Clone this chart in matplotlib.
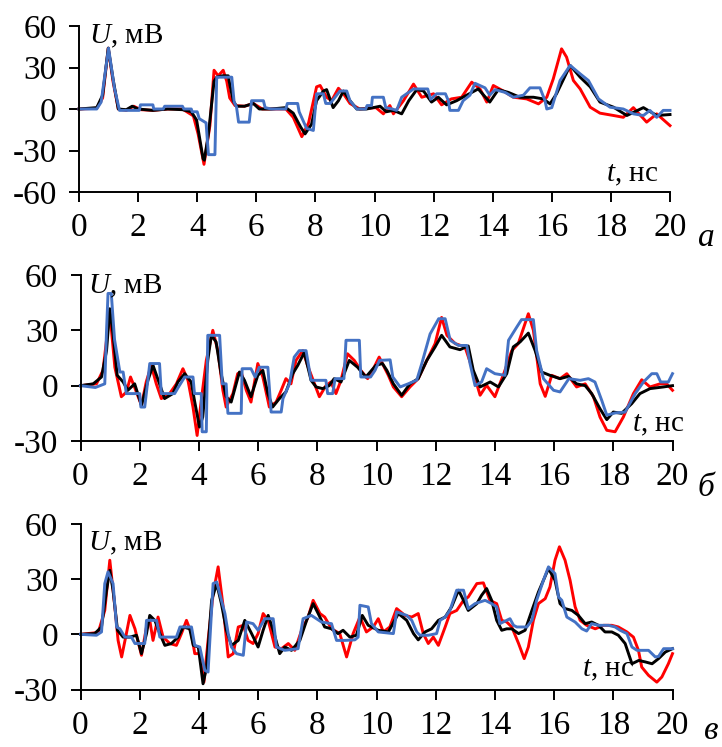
import numpy as np
import matplotlib
matplotlib.use("Agg")
import matplotlib.pyplot as plt

plt.rcParams['font.family'] = ['Liberation Serif', 'DejaVu Serif']
plt.rcParams['mathtext.fontset'] = 'custom'
plt.rcParams['mathtext.rm'] = 'Liberation Serif'
plt.rcParams['mathtext.it'] = 'Liberation Serif:italic'
plt.rcParams['axes.unicode_minus'] = False

# ---------------- data (t, ns ; U, mV) ----------------
a_red = [(0,0),(0.6,0.5),(0.8,8),(0.99,44),(1.15,20),(1.33,0),(1.6,-1),(1.85,2),(2.1,-0.5),(2.5,-1),(3.0,0),(3.5,0),
         (3.87,-5),(4.03,-18),(4.23,-40),(4.43,-12),(4.57,28),(4.71,24),(4.88,28),(5.0,20),(5.1,8),(5.28,2.5),(5.6,2),
         (5.9,4),(6.2,0),(6.6,0),(7.0,0),(7.25,-6),(7.54,-20),(7.77,-10),(8.04,16),(8.16,17),(8.38,8.5),(8.55,6),(8.78,15),
         (8.95,11),(9.17,4),(9.5,0),(10.05,1),(10.3,-3.5),(10.52,2.5),(10.64,-3.5),(10.98,6),(11.32,18),(11.6,8.5),(12.0,11),
         (12.27,3),(12.6,7.3),(12.95,8.5),(13.29,19.4),(13.57,14.5),(13.8,5),(14.02,17),(14.36,13),(14.7,8.5),(15.15,7.3),
         (15.55,3.7),(15.83,8.5),(16.05,21.8),(16.33,43.5),(16.5,37.5),(16.73,20.6),(16.96,14.5),(17.3,1.3),(17.63,-3),
         (18.09,-4.7),(18.42,-6),(18.76,1),(19.21,-9.5),(19.55,-3.5),(20.0,-12)]
a_black = [(0,0),(0.6,1),(0.8,10),(0.99,44),(1.15,22),(1.33,0),(1.6,-0.5),(1.8,2),(2.0,0),(2.5,-1),(3.0,0),(3.5,-0.5),
           (3.8,-2),(3.98,-8),(4.2,-36),(4.24,-37),(4.38,-18),(4.57,20),(4.66,23),(4.85,24),(5.05,24),(5.1,18),(5.22,6),
           (5.33,2),(5.6,2),(5.9,4),(6.1,0),(6.5,0),(7.0,1),(7.25,-3),(7.5,-13),(7.65,-18),(7.87,-11),(8.04,6),(8.27,13),
           (8.38,14),(8.6,1),(8.78,6),(8.95,13),(9.17,6),(9.4,0),(9.73,0),(10.19,2),(10.4,-2),(10.64,-1),(10.92,-3.5),
           (11.16,6),(11.43,14),(11.66,13),(11.93,5),(12.16,8.5),(12.44,3),(12.78,6),(13.12,10),(13.51,14.5),(13.9,5),
           (14.19,14),(14.53,12),(14.92,8.5),(15.38,8.5),(15.71,7.3),(15.94,3.7),(16.16,11),(16.62,31.5),(16.96,23),
           (17.3,16),(17.63,5),(18.09,1.3),(18.54,-4.7),(19.1,1),(19.55,-4.7),(20.0,-4)]
a_blue = [(0,0),(0.6,0),(0.75,5),(1.0,44),(1.2,15),(1.37,-1),(2.04,-1),(2.08,3),(2.5,3),(2.53,0),(2.85,0),(2.9,2),
          (3.5,2),(3.55,0),(3.8,0),(3.83,-2),(4.0,-2),(4.07,-7),(4.3,-10),(4.38,-33),(4.6,-33),(4.66,23),(5.17,23),
          (5.25,5),(5.33,1.5),(5.4,-9.5),(5.76,-9.5),(5.84,6),(6.24,6),(6.3,1),(6.5,0),(7.0,0),(7.05,4),(7.4,4),(7.45,-2),
          (7.7,-14),(7.93,-15.5),(8.04,11),(8.27,11),(8.35,4),(8.5,4),(8.83,13),(9.06,13),(9.17,6),(9.4,0),(9.7,0),
          (9.75,2.5),(9.9,2.5),(9.93,8.5),(10.3,8.5),(10.38,1),(10.6,0),(10.75,-1),(10.92,8.5),(11.32,14.5),(11.8,14.5),
          (11.9,7),(12.1,11),(12.4,11),(12.5,6),(12.55,-1),(12.84,-1),(13.0,6),(13.23,10),(13.4,18.6),(13.74,15.3),
          (13.9,10),(14.08,14),(14.42,12),(14.7,8.5),(15.04,10),(15.26,15.3),(15.6,15.3),(15.77,6),(15.83,0),(16.0,1),
          (16.28,20.6),(16.62,31.5),(16.96,25.4),(17.24,20.6),(17.58,7.3),(17.97,1.3),(18.42,0),(18.76,-3.5),(19.1,-4.7),
          (19.32,-1),(19.55,-6),(19.77,-1),(20.0,-1)]

b_red = [(0,0),(0.54,1),(0.76,8.3),(0.99,40),(1.16,10),(1.38,-6),(1.55,-3.5),(1.69,4.7),(1.83,-1),(2.06,-10.7),(2.22,2),
         (2.39,11),(2.56,1),(2.73,-7),(3.01,-4.3),(3.24,1),(3.46,9.2),(3.63,2.9),(3.8,-11.6),(3.94,-27),(4.08,-8),
         (4.25,13.7),(4.47,30),(4.64,19),(4.81,-2.5),(4.92,-11.6),(5.15,-4.3),(5.31,6.5),(5.43,7.4),(5.6,-2.5),(5.76,-8.9),
         (5.99,12),(6.16,4.7),(6.38,-11.6),(6.61,-8.9),(6.78,-2.5),(6.94,3.8),(7.11,1),(7.28,13.7),(7.51,19),(7.67,11),
         (7.84,3.8),(8.07,-6),(8.29,0),(8.46,2),(8.63,-4.3),(8.8,2.9),(9.02,17.3),(9.25,13.7),(9.47,8.3),(9.7,3.8),
         (9.92,10),(10.09,15.5),(10.4,5.6),(10.57,-0.7),(10.85,-6),(11.13,-0.7),(11.41,3.8),(11.7,13.7),(11.98,22.8),
         (12.2,37),(12.38,27.3),(12.66,22.8),(12.99,21),(13.22,10),(13.5,-5.2),(13.72,0.2),(14.0,-6),(14.3,6.5),
         (14.57,19),(14.79,22.8),(15.13,39),(15.3,30),(15.53,1),(15.7,-5.8),(15.92,5.6),(16.2,3.8),(16.43,6.5),
         (16.76,-0.7),(17.05,1),(17.33,-6),(17.55,-17),(17.78,-24.2),(18.06,-25),(18.34,-17),(18.68,-4.3),(18.96,3.2),
         (19.24,-0.7),(19.58,1),(19.8,1),(20.0,-2.5)]
b_black = [(0,0),(0.43,1),(0.71,4.7),(0.88,19),(0.99,41.7),(1.1,28),(1.24,5.6),(1.44,2),(1.6,-2.5),(1.83,1),(2.06,-10.7),
           (2.28,3),(2.45,11),(2.67,1),(2.84,-7),(3.12,-4.3),(3.29,2),(3.52,6.5),(3.74,2),(3.85,-8),(4.02,-22.4),
           (4.13,-17),(4.3,13.7),(4.42,27.3),(4.58,23.7),(4.75,6.5),(4.92,-6),(5.09,-8.9),(5.37,7.4),(5.54,2.9),(5.76,-6),
           (5.99,5.6),(6.16,8.3),(6.33,-4.3),(6.49,-11.6),(6.72,-7),(6.94,-3.4),(7.17,6.5),(7.34,11),(7.56,18),(7.79,2.9),
           (7.96,-0.7),(8.18,-1.6),(8.4,0),(8.57,3.8),(8.8,2),(9.08,13.7),(9.36,10),(9.64,4.7),(9.98,11),(10.2,12),
           (10.35,8.3),(10.57,1),(10.85,-5.2),(11.13,1),(11.41,3.8),(11.7,13.7),(11.98,21),(12.2,27.3),(12.48,21),
           (12.82,19.5),(13.1,21.5),(13.27,8.3),(13.5,-0.7),(13.84,2),(14.12,-0.7),(14.4,6.5),(14.62,21),(14.85,23.7),
           (15.13,28.5),(15.36,19),(15.58,7.4),(15.86,5.6),(16.2,3.8),(16.48,5),(16.76,1),(17.05,0),(17.27,-4.3),
           (17.55,-12.5),(17.78,-18.4),(18.0,-14.3),(18.28,-15),(18.62,-9.8),(18.9,-4.3),(19.24,-1.6),(19.69,-0.7),(20.0,0)]
b_blue = [(0,0),(0.5,-1),(0.82,1),(0.88,30),(0.93,50),(1.04,50),(1.15,25),(1.33,7.4),(1.44,7.4),(1.55,-4.3),(2.0,-4.3),
          (2.04,-11.6),(2.17,-11.6),(2.34,12),(2.67,12),(2.73,-4.3),(3.18,-4.3),(3.3,-1),(3.52,4.7),(3.8,4.7),(3.85,-4.3),
          (4.08,-4.3),(4.11,-25),(4.25,-25),(4.3,27.3),(4.7,27.3),(4.79,1),(4.92,1),(4.98,-15),(5.43,-15),(5.46,9.2),
          (5.76,9.2),(5.9,4.7),(6.04,10),(6.33,10),(6.44,-14.3),(6.78,-14.3),(6.84,-7),(7.06,1),(7.22,15.5),(7.39,19),
          (7.62,19),(7.79,2.9),(8.29,2.9),(8.35,-4.3),(8.52,-4.3),(8.6,3.8),(8.9,3.8),(8.97,24.6),(9.42,24.6),(9.47,4.7),
          (9.8,4.7),(9.95,8.3),(10.1,13.7),(10.46,14),(10.55,4.7),(10.8,-0.7),(11.07,1),(11.36,3),(11.53,12),(11.81,28),
          (12.1,36.3),(12.32,36.3),(12.49,24.6),(12.77,21.8),(13.05,21.8),(13.16,12),(13.33,0),(13.55,2),(13.72,9.2),
          (14.0,6.5),(14.34,5.6),(14.46,24.6),(14.74,31.8),(14.9,35.8),(15.3,35.8),(15.41,19),(15.64,3.8),(15.98,-2.5),
          (16.2,-3.4),(16.5,3.8),(16.88,2.9),(17.16,3.8),(17.38,2),(17.61,-8),(17.78,-16),(18.06,-14.8),(18.4,-14.3),
          (18.74,-4.3),(19.02,2),(19.3,6.5),(19.47,6.5),(19.6,2),(19.86,2),(20.0,6.5)]

c_red = [(0,0),(0.6,1),(0.82,13),(0.99,40.3),(1.16,15),(1.27,-3.3),(1.39,-12.3),(1.55,0.4),(1.67,10.3),(1.84,3),
         (2.06,-11.4),(2.23,4),(2.34,7.6),(2.45,-3.3),(2.62,9.4),(2.79,-1.5),(3.02,-5),(3.24,-6),(3.41,0.4),(3.58,7.6),
         (3.75,0.4),(3.86,-10.5),(4.03,-10.5),(4.17,-26),(4.31,-3.3),(4.48,22),(4.65,36.7),(4.82,15),(4.99,-12.3),
         (5.16,-10.5),(5.33,4),(5.5,4.9),(5.66,-3.3),(5.83,-5),(6.0,0.4),(6.17,11.3),(6.34,7.6),(6.57,-6.9),(6.79,-7.8),
         (7.02,-5),(7.24,-8.7),(7.47,2.2),(7.69,9.4),(7.86,18.5),(8.09,11.3),(8.25,9.4),(8.48,3),(8.76,0.4),(8.99,-12.3),
         (9.21,0.4),(9.44,9.4),(9.66,1.3),(9.89,4),(10.06,8.5),(10.23,1.3),(10.45,4),(10.68,14),(10.96,10.3),(11.19,9.4),
         (11.41,11.3),(11.58,0.4),(11.75,-5),(11.92,-1.5),(12.09,-6),(12.32,4),(12.48,11.3),(12.71,13),(12.94,18.5),
         (13.1,20.3),(13.39,27.6),(13.61,28),(13.83,18.5),(14.06,16.7),(14.23,7.6),(14.4,6.7),(14.57,4),(14.8,-5),
         (14.99,-13.2),(15.13,-6.9),(15.3,7.6),(15.47,16.7),(15.7,19.4),(15.86,25.8),(16.03,40.3),(16.18,47.6),
         (16.37,40.3),(16.54,29.4),(16.71,15),(16.88,7.6),(17.1,4.9),(17.39,3),(17.67,4.9),(17.95,4.9),(18.17,4),
         (18.46,1.3),(18.68,-1.5),(18.85,-8.7),(18.96,-17.8),(19.19,-22.3),(19.47,-26),(19.64,-23.2),(19.86,-16),(20.0,-10.5)]
c_black = [(0,0),(0.48,0.4),(0.71,4),(0.88,24),(0.99,34.8),(1.1,24),(1.25,2.2),(1.44,-1.5),(1.67,-1.5),(1.89,-0.5),
           (2.06,-10.5),(2.23,0.4),(2.34,10.3),(2.51,7.6),(2.68,0.4),(2.85,-6),(3.07,-5),(3.3,-1.5),(3.47,4),(3.69,3),
           (3.81,-6),(3.98,-6.9),(4.14,-26.9),(4.26,-17.8),(4.43,18.5),(4.6,27.6),(4.76,16.7),(4.93,2.2),(5.1,-6),
           (5.33,-3.3),(5.55,7.6),(5.78,0.4),(6.0,-6.9),(6.17,2.2),(6.34,10.3),(6.51,2.2),(6.73,-10.5),(6.9,-6.9),
           (7.13,-8.7),(7.41,-3.3),(7.64,7.6),(7.86,16.7),(8.03,11.3),(8.25,4),(8.48,3),(8.7,0.4),(8.87,2.2),(9.1,-1.5),
           (9.32,-0.5),(9.52,10.3),(9.72,4.9),(10.06,2.2),(10.4,1.3),(10.74,11.3),(11.02,7.6),(11.25,0.4),(11.41,-3),
           (11.64,1.3),(11.86,3),(12.09,7.6),(12.32,9.4),(12.54,15),(12.77,24),(12.94,18.5),(13.1,13),(13.39,16.7),
           (13.55,21.2),(13.72,24.9),(13.89,18.5),(14.06,7.6),(14.23,2.2),(14.4,3),(14.57,3),(14.8,0.4),(15.02,2.2),
           (15.25,13),(15.47,23),(15.64,29.4),(15.81,35.8),(16.03,29.4),(16.2,16.7),(16.37,14),(16.6,13),(16.82,10.3),
           (17.05,5.8),(17.27,6.7),(17.5,4.9),(17.72,1.3),(17.95,1.3),(18.17,-0.5),(18.4,-5),(18.63,-16),(18.86,-14.2),
           (19.08,-15),(19.31,-16),(19.53,-13.2),(19.76,-9.6),(20.0,-7.8)]
c_blue = [(0,0),(0.54,-0.5),(0.71,1.3),(0.82,27.6),(0.93,34),(1.1,27.6),(1.22,4),(1.33,3),(1.5,-1.5),(1.72,-1.5),(1.84,-5),
          (2.17,-5),(2.23,7.6),(2.57,7.6),(2.68,-1.5),(3.24,-1.5),(3.36,4),(3.75,4),(3.86,-6),(4.03,-6.9),(4.2,-19.6),
          (4.31,-20.5),(4.37,-3.3),(4.48,27.6),(4.6,28.5),(4.88,11.3),(4.99,0.4),(5.1,-6.9),(5.27,-10.5),(5.5,-11.4),
          (5.61,6.7),(5.83,5.8),(6.0,2.2),(6.23,8.5),(6.51,8.5),(6.62,-6.9),(6.9,-8.7),(7.35,-7.8),(7.52,8.5),(7.8,10.3),
          (8.14,6.7),(8.48,5.8),(8.65,-3.3),(8.93,-3.3),(9.27,-3),(9.38,-1.5),(9.44,15.8),(9.72,14.9),(9.83,5.8),
          (10.06,1.3),(10.57,0.4),(10.68,12.2),(11.02,10.3),(11.19,7.6),(11.36,1.3),(11.47,-0.5),(11.75,-0.5),(12.03,0.4),
          (12.15,7.6),(12.32,9.4),(12.48,13),(12.71,24),(12.94,24),(13.1,14),(13.33,16.7),(13.67,18.5),(13.89,16.7),
          (14.06,14.9),(14.17,5.8),(14.51,8.5),(14.63,4.9),(14.74,4),(15.08,4),(15.25,7.6),(15.41,18.5),(15.64,29.4),
          (15.81,36.7),(16.03,33),(16.15,20.3),(16.26,18.5),(16.43,9.4),(16.71,6.7),(16.94,3),(17.1,1.8),(17.27,5.8),
          (17.5,4.9),(17.84,4.9),(18.06,4),(18.23,2.2),(18.46,0.4),(18.63,-6.9),(18.8,-8.7),(19.19,-8.7),(19.42,-12.3),
          (19.53,-12),(19.7,-7.8),(20.0,-7.8)]

x_ticks = [0, 2, 4, 6, 8, 10, 12, 14, 16, 18, 20]
yticks_a = [-60, -30, 0, 30, 60]
yticks_bc = [-30, 0, 30, 60]
panel_letters = ['а', 'б', 'в']
y_label = 'мВ'
x_label = 'нс'

RED, BLACK, BLUE = '#FF0000', '#000000', '#4472C4'

fig = plt.figure(figsize=(7.22, 7.47), dpi=100)
W, H = 722, 747
def ax_rect(x0, x1, ytop, ybot):
    return [x0 / W, 1 - ybot / H, (x1 - x0) / W, (ybot - ytop) / H]

panels = [
    (ax_rect(79, 670, 26, 192), (a_red, a_black, a_blue), (-60, 60), yticks_a, 52.5, 0.33, (19.6, -47.5)),
    (ax_rect(80.5, 672.5, 275, 441), (b_red, b_black, b_blue), (-30, 60), yticks_bc, 54.0, 0.24, (20.4, -21.2)),
    (ax_rect(80.5, 672.5, 524, 689.5), (c_red, c_black, c_blue), (-30, 60), yticks_bc, 49.5, 0.27, (18.7, -19.6)),
]

for i, (rect, series, ylim, yt, ulab_y, ulab_x, tlab) in enumerate(panels):
    ax = fig.add_axes(rect)
    for data, col in zip(series, (RED, BLACK, BLUE)):
        arr = np.array(data, dtype=float)
        ax.plot(arr[:, 0], arr[:, 1], color=col, lw=2.1, solid_joinstyle='round', clip_on=False)
    ax.set_xlim(0, 20)
    ax.set_ylim(*ylim)
    ax.set_xticks(x_ticks)
    ax.set_yticks(yt)
    ax.set_yticklabels([str(v) for v in yt])
    for s in ('top', 'right'):
        ax.spines[s].set_visible(False)
    for s in ('left', 'bottom'):
        ax.spines[s].set_linewidth(1.4)
    ax.tick_params(axis='both', which='major', labelsize=24, width=1.4, length=7, direction='out')
    ax.tick_params(axis='x', pad=8)
    ax.tick_params(axis='y', pad=9)
    ax.set_facecolor('none')
    ax.text(ulab_x, ulab_y, r'$\mathit{U}$' + ', ' + y_label, fontsize=21, ha='left', va='center')
    ax.text(tlab[0], tlab[1], r'$\mathit{t}$' + ', ' + x_label, fontsize=21, ha='right', va='center')

fig.text(706 / W, 1 - 238 / H, panel_letters[0], fontsize=24, style='italic', ha='center', va='center')
fig.text(706 / W, 1 - 488 / H, panel_letters[1], fontsize=24, style='italic', ha='center', va='center')
fig.text(711 / W, 1 - 746 / H, panel_letters[2], fontsize=24, style='italic', ha='center', va='bottom')

fig.savefig('out.png', dpi=100)
